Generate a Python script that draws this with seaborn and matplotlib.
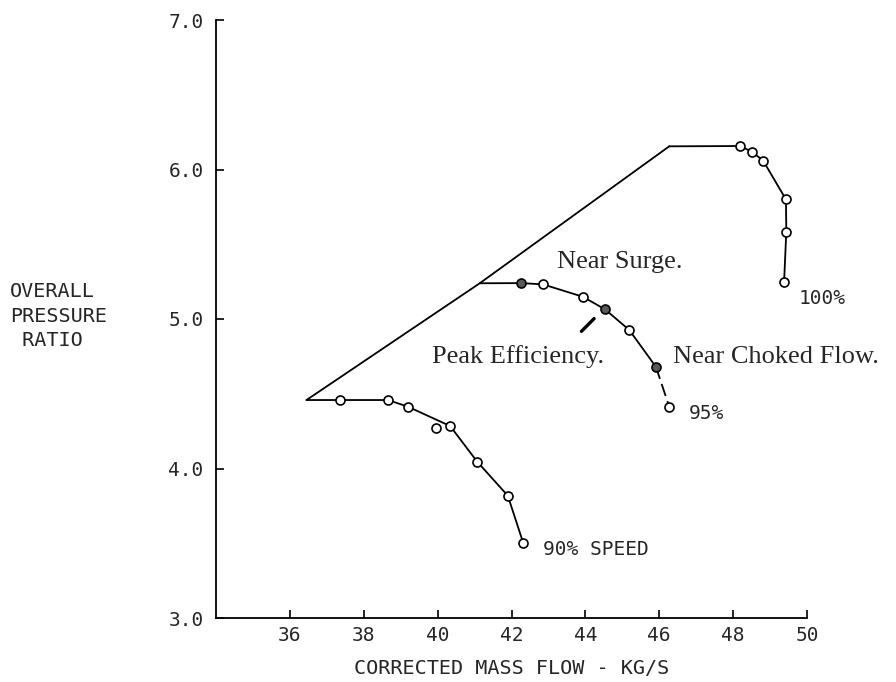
import matplotlib
matplotlib.use("Agg")
import matplotlib.pyplot as plt
import seaborn as sns
import pandas as pd

# ---------------- data ----------------
# 90% speed line
flow_90 = [37.37, 38.66, 39.20, 39.96, 40.34, 41.07, 41.90, 42.32]
pr_90 = [4.458, 4.458, 4.413, 4.269, 4.284, 4.046, 3.818, 3.50]
curve_flow_90 = [36.45, 37.37, 38.66, 39.20, 40.34, 41.07, 41.90, 42.32]
curve_pr_90 = [4.458, 4.458, 4.458, 4.413, 4.284, 4.046, 3.818, 3.50]

# 95% speed line
flow_95 = [42.26, 42.85, 43.93, 44.53, 45.19, 45.91, 46.27]
pr_95 = [5.240, 5.232, 5.149, 5.065, 4.926, 4.680, 4.413]
filled_95 = [True, False, False, True, False, True, False]
curve_flow_95 = [41.14, 42.26, 42.85, 43.93, 44.53, 45.19, 45.91]
curve_pr_95 = [5.239, 5.240, 5.232, 5.149, 5.065, 4.926, 4.680]
tail_flow_95 = [45.91, 46.27]
tail_pr_95 = [4.680, 4.413]

# 100% speed line
flow_100 = [48.19, 48.50, 48.81, 49.43, 49.44, 49.38]
pr_100 = [6.157, 6.120, 6.060, 5.800, 5.584, 5.250]
curve_flow_100 = [46.27, 48.19, 48.50, 48.81, 49.43, 49.44, 49.38]
curve_pr_100 = [6.155, 6.157, 6.120, 6.060, 5.800, 5.584, 5.250]

# surge line
surge_flow = [36.45, 41.14, 46.27]
surge_pr = [4.458, 5.239, 6.155]

x_ticks = [36, 38, 40, 42, 44, 46, 48, 50]
y_ticks = [3.0, 4.0, 5.0, 6.0, 7.0]
y_tick_labels = ["3.0", "4.0", "5.0", "6.0", "7.0"]

# ---------------- styling ----------------
sns.set_style("ticks")
plt.rcParams["font.family"] = ["DejaVu Sans Mono", "DejaVu Sans"]
MONO = ["DejaVu Sans Mono", "DejaVu Sans"]
SERIF = ["Liberation Serif", "DejaVu Serif"]

fig = plt.figure(figsize=(8.96, 6.82), dpi=100)
ax = fig.add_axes([216 / 896, 64 / 682, 591 / 896, 598 / 682])

LW = 1.3
kw = dict(sort=False, estimator=None, color="black", linewidth=LW, ax=ax, legend=False)
sns.lineplot(x=surge_flow, y=surge_pr, **kw)
sns.lineplot(x=curve_flow_90, y=curve_pr_90, **kw)
sns.lineplot(x=curve_flow_95, y=curve_pr_95, **kw)
sns.lineplot(x=curve_flow_100, y=curve_pr_100, **kw)
tail = sns.lineplot(x=tail_flow_95, y=tail_pr_95, **kw)
ax.lines[-1].set_dashes((7, 3))

mk = dict(s=42, linewidth=1.2, edgecolor="black", ax=ax, legend=False, zorder=5)
sns.scatterplot(x=flow_90, y=pr_90, color="white", **mk)
sns.scatterplot(x=flow_100, y=pr_100, color="white", **mk)
df95 = pd.DataFrame({"flow": flow_95, "pr": pr_95, "filled": filled_95})
sns.scatterplot(data=df95[~df95.filled], x="flow", y="pr", color="white", **mk)
sns.scatterplot(data=df95[df95.filled], x="flow", y="pr", color="#5a5a5a", **mk)

# annotations
ax.text(43.22, 5.341, "Near Surge.", fontsize=19, family=SERIF, va="baseline", ha="left")
ax.text(39.86, 4.704, "Peak Efficiency.", fontsize=19, family=SERIF, va="baseline", ha="left")
ax.text(46.36, 4.704, "Near Choked Flow.", fontsize=19, family=SERIF, va="baseline", ha="left",
        clip_on=False)
ax.annotate("", xy=(44.29, 5.016), xytext=(43.84, 4.904),
            arrowprops=dict(arrowstyle="-", lw=2.4, color="black"))

ax.text(49.78, 5.14, "100%", fontsize=14, family=MONO, va="center", ha="left", clip_on=False)
ax.text(46.81, 4.371, "95%", fontsize=14, family=MONO, va="center", ha="left")
ax.text(42.84, 3.455, "90% SPEED", fontsize=14, family=MONO, va="center", ha="left")

# axes
ax.set_xlim(34, 50)
ax.set_ylim(3, 7)
ax.set_xticks(x_ticks)
ax.set_xticklabels([str(t) for t in x_ticks])
ax.set_yticks(y_ticks)
ax.set_yticklabels(y_tick_labels)
ax.tick_params(axis="both", direction="in", length=6, width=1.2, labelsize=14, color="black")
ax.tick_params(axis="y", pad=9)
ax.tick_params(axis="x", pad=6)
for lab in ax.get_xticklabels() + ax.get_yticklabels():
    lab.set_family(MONO)

for side in ["top", "right"]:
    ax.spines[side].set_visible(False)
for side in ["left", "bottom"]:
    ax.spines[side].set_linewidth(1.3)
    ax.spines[side].set_color("black")

ax.set_xlabel("CORRECTED MASS FLOW - KG/S", fontsize=14.5, family=MONO, labelpad=10)
ax.set_ylabel("OVERALL\nPRESSURE\n RATIO", fontsize=14.5, family=MONO, rotation=0,
              ha="left", va="center", multialignment="left", linespacing=1.35)
ax.yaxis.set_label_coords((10 - 216) / 591, (618 - 316) / 598)

fig.savefig("out.png", dpi=100, facecolor="white")
